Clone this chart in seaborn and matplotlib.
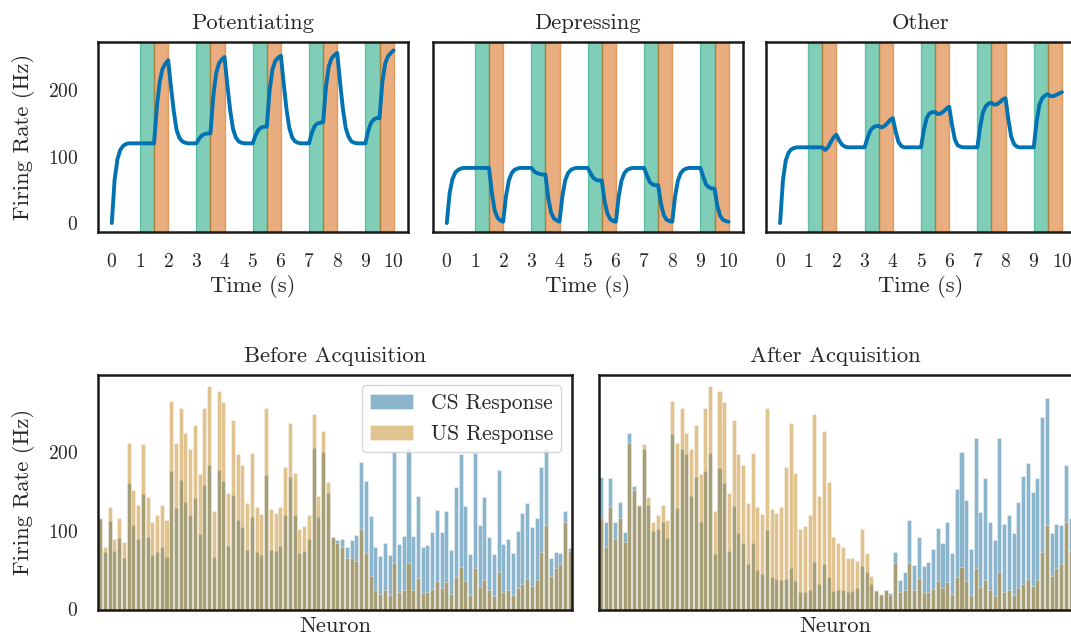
import numpy as np
import pandas as pd
import matplotlib
matplotlib.use("Agg")
import matplotlib.pyplot as plt
import seaborn as sns

# ---------------- data ----------------
time_s = np.round(np.arange(0, 101) * 0.1, 1)
cs_onsets = [1, 3, 5, 7, 9]
stim_len = 0.5
panel_titles = ["Potentiating", "Depressing", "Other"]

potentiating = [
    0, 65, 96, 110, 116, 119, 120, 120, 120, 120,
    120, 120, 120, 120, 120, 120, 175, 213, 232, 240,
    245, 205, 168, 140, 128, 123, 121, 120, 120, 120,
    120, 127, 132, 134, 135, 135, 190, 225, 240, 246,
    250, 208, 170, 142, 129, 123, 121, 120, 120, 120,
    120, 132, 140, 144, 145, 145, 200, 231, 244, 249,
    252, 210, 171, 143, 129, 123, 121, 120, 120, 120,
    120, 136, 146, 150, 151, 152, 205, 236, 248, 253,
    256, 212, 172, 143, 130, 123, 121, 120, 120, 120,
    120, 139, 151, 156, 158, 158, 212, 240, 251, 256,
    260]

depressing = [
    0, 45, 66, 76, 80, 82, 83, 83, 83, 83,
    83, 83, 83, 83, 83, 83, 45, 19, 8, 4,
    2, 40, 64, 75, 80, 82, 83, 83, 83, 83,
    83, 78, 75, 74, 73, 73, 38, 16, 7, 4,
    2, 40, 64, 75, 80, 82, 83, 83, 83, 83,
    83, 75, 68, 65, 64, 64, 33, 14, 6, 3,
    2, 40, 64, 75, 80, 82, 83, 83, 83, 83,
    83, 72, 62, 58, 57, 57, 29, 12, 5, 3,
    2, 40, 64, 75, 80, 82, 83, 83, 83, 83,
    83, 70, 58, 54, 52, 52, 26, 11, 5, 3,
    2]

other = [
    0, 64, 94, 106, 111, 113, 114, 114, 114, 114,
    114, 114, 114, 114, 114, 114, 110, 114, 122, 129,
    133, 124, 118, 115, 114, 114, 114, 114, 114, 114,
    114, 128, 139, 144, 146, 146, 144, 146, 150, 155,
    158, 138, 122, 116, 114, 114, 114, 114, 114, 114,
    114, 140, 158, 165, 167, 167, 164, 165, 168, 172,
    175, 148, 126, 117, 115, 114, 114, 114, 114, 114,
    114, 145, 167, 176, 180, 181, 178, 179, 182, 186,
    188, 156, 130, 119, 115, 114, 114, 114, 114, 114,
    114, 152, 178, 188, 192, 194, 191, 191, 193, 195,
    197]

neuron = list(range(100))

us_response = [
    117, 79, 131, 90, 116, 86, 212, 152, 133, 211,
    143, 111, 120, 133, 114, 266, 212, 257, 225, 204,
    235, 172, 256, 285, 126, 278, 264, 148, 241, 198,
    184, 136, 199, 131, 122, 257, 128, 123, 130, 181,
    237, 174, 103, 106, 120, 249, 144, 227, 162, 92,
    85, 80, 65, 65, 62, 103, 72, 43, 25, 20,
    25, 18, 59, 22, 25, 59, 25, 40, 21, 22,
    26, 36, 27, 35, 20, 42, 54, 36, 19, 53,
    29, 38, 25, 17, 48, 22, 25, 19, 28, 33,
    39, 30, 38, 73, 108, 43, 53, 58, 111, 74]

cs_before = [
    115, 73, 113, 75, 91, 65, 161, 107, 90, 147,
    92, 70, 73, 79, 67, 177, 129, 165, 137, 120,
    142, 96, 159, 184, 67, 178, 164, 81, 146, 114,
    105, 76, 118, 73, 70, 171, 76, 75, 81, 120,
    169, 120, 72, 74, 90, 206, 118, 200, 148, 92,
    89, 90, 79, 88, 95, 188, 164, 119, 80, 68,
    85, 70, 202, 83, 93, 206, 93, 144, 80, 82,
    99, 127, 99, 125, 76, 156, 198, 132, 71, 199,
    108, 143, 92, 71, 178, 84, 90, 72, 100, 123,
    135, 105, 117, 182, 204, 65, 73, 72, 125, 78]

cs_after = [
    169, 112, 168, 112, 137, 99, 225, 157, 132, 205,
    133, 100, 102, 111, 91, 224, 129, 205, 198, 145,
    169, 111, 177, 199, 71, 180, 161, 75, 132, 97,
    85, 58, 85, 50, 45, 101, 42, 39, 37, 39,
    53, 36, 22, 22, 25, 61, 33, 58, 42, 24,
    25, 25, 22, 23, 27, 55, 48, 33, 24, 19,
    25, 21, 73, 38, 48, 114, 57, 92, 55, 60,
    77, 104, 85, 112, 72, 153, 201, 139, 77, 219,
    124, 168, 112, 88, 218, 109, 120, 97, 137, 170,
    186, 149, 167, 245, 269, 98, 109, 108, 184, 117]

bar_titles = ["Before Acquisition", "After Acquisition"]
series_labels = ["CS Response", "US Response"]

# ---------------- style ----------------
sns.set_theme(style="white")
plt.rcParams["font.family"] = ["cmr10", "DejaVu Serif"]
plt.rcParams["mathtext.fontset"] = "cm"
plt.rcParams["axes.formatter.use_mathtext"] = True
plt.rcParams["axes.unicode_minus"] = False

pal = sns.color_palette("colorblind")
line_blue = pal[0]
cs_green = pal[2]
us_orange = pal[3]
bar_blue = pal[0]
bar_orange = pal[1]

FS_TICK = 14
FS_LABEL = 16.3
FS_LEG = 15.5
W, H = 1071, 640
fig = plt.figure(figsize=(W / 100, H / 100), dpi=100)

def style_axes(ax):
    for s in ax.spines.values():
        s.set_visible(True)
        s.set_linewidth(1.8)
        s.set_color("#1a1a1a")
    ax.tick_params(axis="both", length=0, labelsize=FS_TICK)
    ax.tick_params(axis="x", pad=15)
    ax.tick_params(axis="y", pad=14)

# ---------------- top row ----------------
top_lefts = [97.7, 432.7, 766.0]
top_w, top_h = 310.0, 190.0
top_bottom = H - 231.7
series = [potentiating, depressing, other]
top_axes = []
for k in range(3):
    rect = [top_lefts[k] / W, top_bottom / H, top_w / W, top_h / H]
    ax = fig.add_axes(rect, sharey=top_axes[0] if top_axes else None)
    top_axes.append(ax)
    for on in cs_onsets:
        ax.axvspan(on, on + stim_len, color=cs_green, alpha=0.5, lw=1.0, zorder=1)
        ax.axvspan(on + stim_len, on + 2 * stim_len, color=us_orange, alpha=0.5, lw=1.0, zorder=1)
    df = pd.DataFrame({"t": time_s, "r": series[k]})
    sns.lineplot(data=df, x="t", y="r", ax=ax, color=line_blue, lw=2.8, zorder=3)
    ax.set_xticks(range(0, 11))
    ax.set_xlabel("Time (s)", fontsize=FS_LABEL, labelpad=3)
    ax.set_title(panel_titles[k], fontsize=FS_LABEL, pad=9)
    style_axes(ax)
    if k == 0:
        ax.set_ylabel("Firing Rate (Hz)", fontsize=FS_LABEL, labelpad=9)
        ax.set_yticks([0, 100, 200])
    else:
        ax.set_ylabel("")
        ax.tick_params(axis="y", labelleft=False)

# ---------------- bottom row ----------------
bot_lefts = [97.7, 598.5]
bot_w, bot_h = 474.5, 235.0
bot_bottom = H - 609.5
cs_sets = [cs_before, cs_after]
bot_axes = []
for k in range(2):
    rect = [bot_lefts[k] / W, bot_bottom / H, bot_w / W, bot_h / H]
    ax = fig.add_axes(rect, sharey=bot_axes[0] if bot_axes else None)
    bot_axes.append(ax)
    dcs = pd.DataFrame({"neuron": neuron, "rate": cs_sets[k]})
    dus = pd.DataFrame({"neuron": neuron, "rate": us_response})
    sns.barplot(data=dcs, x="neuron", y="rate", ax=ax, color=bar_blue, alpha=0.5,
                width=0.85, edgecolor="white", linewidth=0.5,
                label=series_labels[0])
    sns.barplot(data=dus, x="neuron", y="rate", ax=ax, color=bar_orange, alpha=0.5,
                width=0.85, edgecolor="white", linewidth=0.5,
                label=series_labels[1])
    ax.set_xticks([])
    ax.set_xlim(-0.5, 99.5)
    ax.set_xlabel("Neuron", fontsize=FS_LABEL, labelpad=5)
    ax.set_title(bar_titles[k], fontsize=FS_LABEL, pad=9)
    style_axes(ax)
    if k == 0:
        ax.set_ylabel("Firing Rate (Hz)", fontsize=FS_LABEL, labelpad=9)
        ax.set_yticks([0, 100, 200])
        ax.legend(loc="upper right", fontsize=FS_LEG, frameon=True)
    else:
        ax.set_ylabel("")
        ax.tick_params(axis="y", labelleft=False)
        lg = ax.get_legend()
        if lg is not None:
            lg.remove()

fig.savefig("out.png", dpi=100)
